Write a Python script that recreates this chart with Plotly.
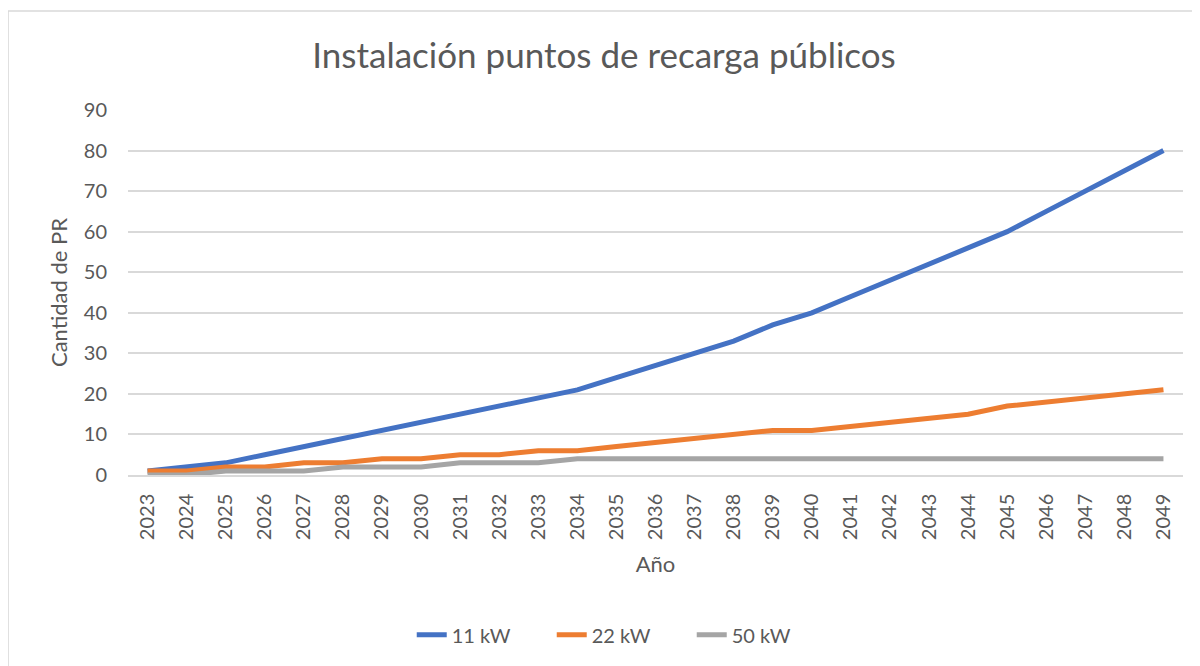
import plotly.graph_objects as go

years = [str(y) for y in range(2023, 2050)]
kw11 = [1, 2, 3, 5, 7, 9, 11, 13, 15, 17, 19, 21, 24, 27, 30, 33, 37, 40,
        44, 48, 52, 56, 60, 65, 70, 75, 80]
kw22 = [1, 1, 2, 2, 3, 3, 4, 4, 5, 5, 6, 6, 7, 8, 9, 10, 11, 11,
        12, 13, 14, 15, 17, 18, 19, 20, 21]
kw50 = [0, 0, 1, 1, 1, 2, 2, 2, 3, 3, 3, 4, 4, 4, 4, 4, 4, 4,
        4, 4, 4, 4, 4, 4, 4, 4, 4]

font = "Lato, 'Open Sans', sans-serif"
grey_txt = "#595959"

fig = go.Figure()
for name, vals, color in [("11 kW", kw11, "#4472C4"),
                          ("22 kW", kw22, "#ED7D31"),
                          ("50 kW", kw50, "#A5A5A5")]:
    fig.add_trace(go.Scatter(x=years, y=vals, mode="lines", name=name,
                             line=dict(color=color, width=5)))

# page body has an 8px margin, so the figure is shrunk by that amount
fig.update_layout(
    width=1192, height=658,
    paper_bgcolor="white", plot_bgcolor="white",
    margin=dict(l=120, r=17, t=102, b=191),
    font=dict(family=font, color=grey_txt),
    title=dict(text="Instalación puntos de recarga públicos", x=0.5, xanchor="center",
               y=0.927, yanchor="middle", font=dict(size=35, color=grey_txt)),
    showlegend=True,
    legend=dict(orientation="h", x=0.468, xanchor="center", y=-0.438, yanchor="middle",
                entrywidth=95, font=dict(size=20, color=grey_txt)),
    shapes=[dict(type="rect", xref="paper", yref="paper",
                 x0=-0.1137, x1=1.2, y0=-0.8, y1=1.271,
                 line=dict(color="#d9d9d9", width=1.5), layer="below")],
)
fig.update_xaxes(type="category", range=[-0.5, 26.5], tickangle=-90,
                 tickfont=dict(size=20), ticklabelstandoff=9,
                 showline=True, linecolor="#d9d9d9", linewidth=1.5,
                 ticks="", showgrid=False,
                 title=dict(text="Año", font=dict(size=22), standoff=17))
fig.update_yaxes(range=[0, 90], dtick=10, tickfont=dict(size=20),
                 showgrid=True, gridcolor="#d9d9d9", gridwidth=1.5,
                 zeroline=False, ticks="", ticklabelstandoff=20,
                 title=dict(text="Cantidad de PR", font=dict(size=22), standoff=10))

fig.write_html("out.html")
